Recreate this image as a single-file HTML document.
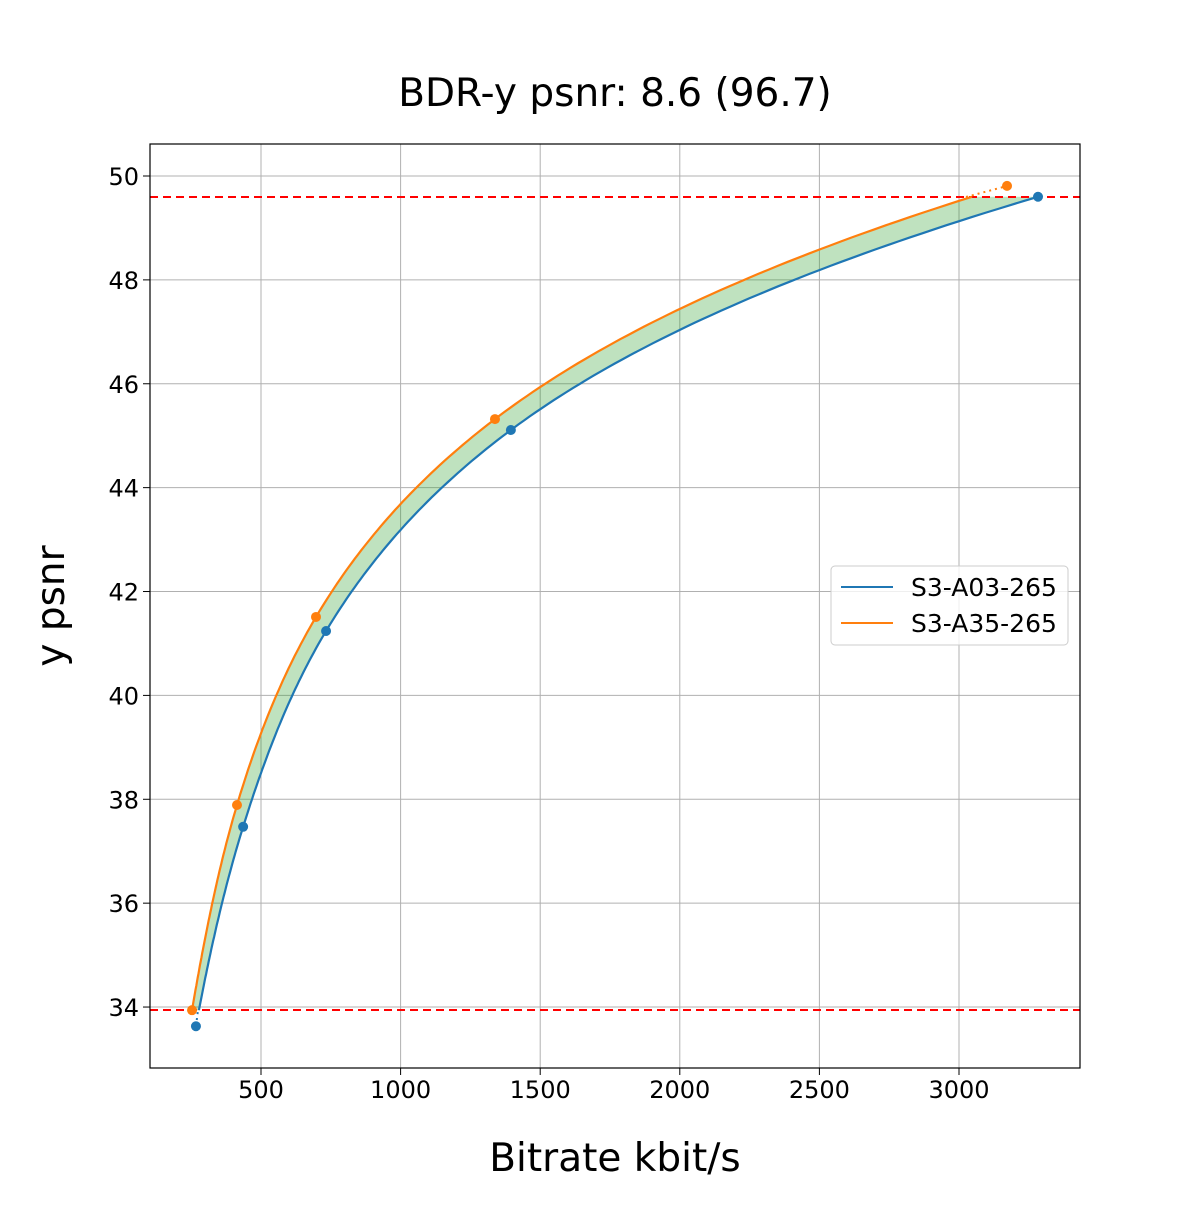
<!DOCTYPE html>
<html><head><meta charset="utf-8"><style>
html,body{margin:0;padding:0;background:#fff}
svg text{font-family:"DejaVu Sans","Liberation Sans",sans-serif;fill:#000}
</style></head><body>
<svg id="s" width="1200" height="1200" xmlns="http://www.w3.org/2000/svg">
<rect width="1200" height="1200" fill="#fff"/>
<text x="615" y="106" font-size="39" text-anchor="middle">BDR-y psnr: 8.6 (96.7)</text>
<g id="grid" stroke="#b0b0b0" stroke-width="1"></g>
<g id="ticks" font-size="24"></g>
<path id="fill" fill="#2ca02c" fill-opacity="0.3" stroke="none"/>
<line x1="150" y1="197" x2="1080" y2="197" stroke="#ff0000" stroke-width="2" stroke-dasharray="8,5"/>
<line x1="150" y1="1010" x2="1080" y2="1010" stroke="#ff0000" stroke-width="2" stroke-dasharray="8,5"/>
<path id="bl" fill="none" stroke="#1f77b4" stroke-width="2.2"/>
<path id="or" fill="none" stroke="#ff7f0e" stroke-width="2.2"/>
<line x1="196" y1="1026" x2="198" y2="1010" stroke="#1f77b4" stroke-width="2" stroke-dasharray="2,4"/>
<line x1="966" y1="197" x2="1007" y2="186" stroke="#ff7f0e" stroke-width="2" stroke-dasharray="2,4"/>
<g id="pts"></g>
<rect x="150" y="144" width="930" height="924" fill="none" stroke="#000" stroke-width="1.2"/>
<text x="615" y="1171" font-size="39" text-anchor="middle">Bitrate kbit/s</text>
<text transform="translate(64,606) rotate(-90)" font-size="39" text-anchor="middle">y psnr</text>
<g>
<rect x="831" y="566" width="237" height="79" rx="4" fill="#fff" fill-opacity="0.8" stroke="#ccc"/>
<line x1="841" y1="587" x2="893" y2="587" stroke="#1f77b4" stroke-width="2"/>
<text x="911" y="596" font-size="25">S3-A03-265</text>
<line x1="841" y1="623" x2="893" y2="623" stroke="#ff7f0e" stroke-width="2"/>
<text x="911" y="632" font-size="25">S3-A35-265</text>
</g>
</svg>
<script>
var NS="http://www.w3.org/2000/svg";
function X(v){return 261+(v-500)*0.2792;}
function Y(v){return 176+(50-v)*51.94;}
var g=document.getElementById('grid'),t=document.getElementById('ticks');
function el(p,n,a){var e=document.createElementNS(NS,n);for(var k in a)e.setAttribute(k,a[k]);p.appendChild(e);return e;}
for(var v=500;v<=3000;v+=500){var x=X(v);el(g,'line',{x1:x,y1:144,x2:x,y2:1068});el(t,'line',{x1:x,y1:1068,x2:x,y2:1075,stroke:'#000'});var tx=el(t,'text',{x:x,y:1098,'text-anchor':'middle'});tx.textContent=v;}
for(var v=34;v<=50;v+=2){var y=Y(v);el(g,'line',{x1:150,y1:y,x2:1080,y2:y});el(t,'line',{x1:143,y1:y,x2:150,y2:y,stroke:'#000'});var ty=el(t,'text',{x:139,y:y+9,'text-anchor':'end'});ty.textContent=v;}
var B=[[267,33.63],[436,37.47],[733,41.24],[1395,45.11],[3283,49.6]];
var O=[[253,33.94],[414,37.89],[697,41.51],[1338,45.32],[3172,49.81]];
function interp(D,p){
 var n=D.length,ps=D.map(d=>d[1]),ls=D.map(d=>Math.log(d[0]));
 var m=[];for(var i=0;i<n;i++){if(i==0)m.push((ls[1]-ls[0])/(ps[1]-ps[0]));else if(i==n-1)m.push((ls[n-1]-ls[n-2])/(ps[n-1]-ps[n-2]));else m.push((ls[i+1]-ls[i-1])/(ps[i+1]-ps[i-1]));}
 var i=0;while(i<n-2&&p>ps[i+1])i++;
 var h=ps[i+1]-ps[i],s=(p-ps[i])/h,s2=s*s,s3=s2*s;
 var l=(2*s3-3*s2+1)*ls[i]+(s3-2*s2+s)*h*m[i]+(-2*s3+3*s2)*ls[i+1]+(s3-s2)*h*m[i+1];
 return Math.exp(l);}
var lo=33.94,hi=49.6,N=200,bp=[],op=[];
for(var k=0;k<=N;k++){var p=lo+(hi-lo)*k/N;bp.push([X(interp(B,p)),Y(p)]);op.push([X(interp(O,p)),Y(p)]);}
function d(a){return 'M'+a.map(q=>q[0].toFixed(1)+','+q[1].toFixed(1)).join('L');}
document.getElementById('bl').setAttribute('d',d(bp));
document.getElementById('or').setAttribute('d',d(op));
document.getElementById('fill').setAttribute('d',d(bp.concat(op.slice().reverse()))+'Z');
var P=document.getElementById('pts');
B.forEach(q=>el(P,'circle',{cx:X(q[0]),cy:Y(q[1]),r:5,fill:'#1f77b4'}));
O.forEach(q=>el(P,'circle',{cx:X(q[0]),cy:Y(q[1]),r:5,fill:'#ff7f0e'}));
</script>
</body></html>
